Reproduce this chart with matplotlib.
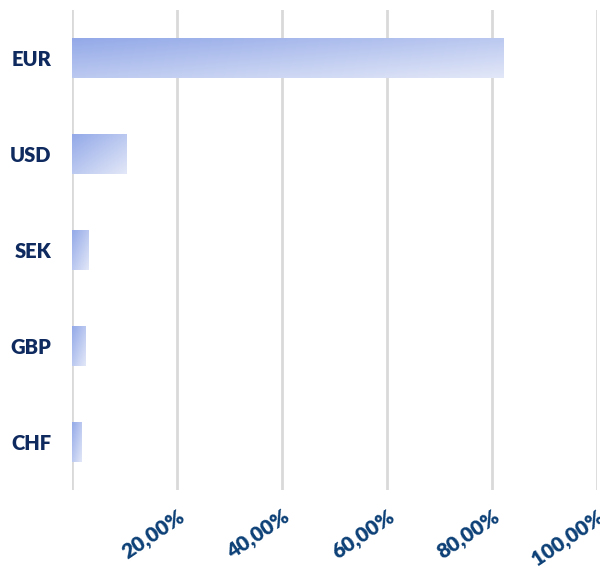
import numpy as np
import matplotlib.pyplot as plt
from matplotlib.colors import LinearSegmentedColormap
from matplotlib.ticker import FuncFormatter

currencies = ["EUR", "USD", "SEK", "GBP", "CHF"]
shares = [82.2, 10.3, 3.1, 2.5, 1.8]
ticks = [0, 20, 40, 60, 80, 100]

cmap = LinearSegmentedColormap.from_list("bar", ["#93a9e8", "#e3e8f8"])
plt.rcParams['font.family'] = ['Lato', 'DejaVu Sans']

fig = plt.figure(figsize=(6, 5.66), dpi=100)
ax = fig.add_axes([0.12, 0.134, 0.875, 0.848])

h = 0.41
ny, nx = 50, 200
yy, xx = np.mgrid[0:ny, 0:nx]
grad = (yy / (ny - 1) + xx / (nx - 1)) / 2
for i, v in enumerate(shares):
    ax.imshow(grad, cmap=cmap, extent=[0, v, i + h / 2, i - h / 2],
              aspect='auto', interpolation='bilinear', zorder=2, origin='upper')

ax.set_xlim(0, 100)
ax.set_ylim(4.5, -0.5)
ax.set_yticks(range(len(currencies)))
ax.set_yticklabels(currencies, fontsize=14.5, fontweight='heavy', color='#0f2a5f')
ax.set_xticks(ticks)
ax.xaxis.set_major_formatter(FuncFormatter(lambda x, p: "" if x == 0 else ("%.2f%%" % x).replace(".", ",")))
for lab in ax.get_xticklabels():
    lab.set_rotation(34)
    lab.set_ha('right')
    lab.set_rotation_mode('anchor')
    lab.set_fontsize(15)
    lab.set_fontweight('heavy')
    lab.set_color('#0c4076')
ax.tick_params(axis='x', length=0, pad=12)
ax.tick_params(axis='y', length=0, pad=15)
ax.grid(axis='x', color='#d9d9d9', linewidth=2, zorder=1)
ax.set_axisbelow(True)
for s in ax.spines.values():
    s.set_visible(False)

fig.savefig("out.png", dpi=100)
